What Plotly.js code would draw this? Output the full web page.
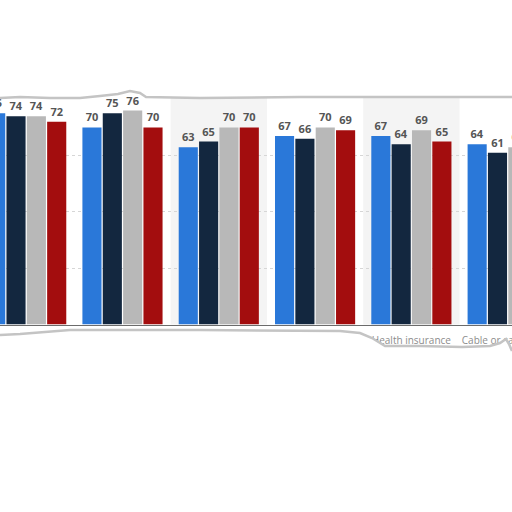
<!DOCTYPE html>
<html>
<head>
<meta charset="utf-8">
<script src="https://cdn.plot.ly/plotly-3.0.1.min.js"></script>
<style>
  html, body { margin: 0; padding: 0; background: #fff; }
  #chart { width: 512px; height: 512px; }
</style>
</head>
<body>
<div id="chart"></div>
<script>
// categories (only the last two labels survive the tear)
var categories = ['Group A', 'Group B', 'Group C', 'Group D', 'Health insurance', 'Cable or satellite TV'];
var visibleLabels = ['Health insurance', 'Cable or satellite TV'];

// four series, legend not visible in the fragment
var seriesNames = ['Series 1', 'Series 2', 'Series 3', 'Series 4'];
var series1 = [75, 70, 63, 67, 67, 64];
var series2 = [74, 75, 65, 66, 64, 61];
var series3 = [74, 76, 70, 70, 69, 63];
var series4 = [72, 70, 70, 69, 65, 63];
var colors = ['#2a78d9', '#13273f', '#b8b8b8', '#a30d0e'];

var gridValues = [0, 20, 40, 60];
var shadedGroups = ['Group C', 'Health insurance'];

var W = 512, H = 512;
function px(x, y) { return (x / W).toFixed(4) + ',' + (1 - y / H).toFixed(4); }
function pathFrom(pts, close) {
  return 'M' + pts.map(function (p) { return px(p[0], p[1]); }).join(' L') + (close ? ' Z' : '');
}

var allSeries = [series1, series2, series3, series4];
var data = allSeries.map(function (vals, i) {
  return {
    type: 'bar',
    name: seriesNames[i],
    x: categories,
    y: vals,
    marker: { color: colors[i], line: { width: 0 } },
    text: vals.map(String),
    textposition: 'outside',
    constraintext: 'none',
    cliponaxis: true,
    textfont: { family: 'Open Sans, DejaVu Sans, sans-serif', size: 11, color: '#555555', weight: 'bold' },
    hoverinfo: 'x+y+name'
  };
});

// torn paper edges
var topEdge = [[0, 98], [20, 97], [50, 98], [80, 98], [100, 96], [118, 94], [130, 91],
  [140, 93], [146, 97], [200, 98], [300, 97], [400, 97], [512, 97]];
var bottomEdge = [[0, 335], [20, 334], [45, 332], [70, 330], [200, 330], [340, 331], [360, 333],
  [372, 338], [385, 346], [420, 346], [462, 347], [490, 346], [500, 343], [506, 339],
  [509, 344], [512, 351]];

var shapes = shadedGroups.map(function (c) {
  var i = categories.indexOf(c);
  return {
    type: 'rect', xref: 'x', yref: 'paper', layer: 'below',
    x0: i - 0.5, x1: i + 0.5, y0: 1 - 324.5 / H, y1: 1 - 60 / H,
    fillcolor: '#f4f4f4', line: { width: 0 }
  };
});
shapes.push({ type: 'path', xref: 'paper', yref: 'paper', layer: 'above',
  path: pathFrom([[0, 0], [512, 0]].concat(topEdge.slice().reverse()), true),
  fillcolor: '#ffffff', line: { width: 0 } });
shapes.push({ type: 'path', xref: 'paper', yref: 'paper', layer: 'above',
  path: pathFrom(bottomEdge.concat([[512, 512], [0, 512]]), true),
  fillcolor: '#ffffff', line: { width: 0 } });
[topEdge, bottomEdge].forEach(function (edge) {
  shapes.push({ type: 'path', xref: 'paper', yref: 'paper', layer: 'above',
    path: pathFrom(edge, false), fillcolor: 'rgba(0,0,0,0)',
    line: { color: '#c4c4c4', width: 2.5 } });
});

var layout = {
  width: W,
  height: H,
  margin: { l: 0, r: 0, t: 0, b: 0, pad: 0 },
  paper_bgcolor: '#ffffff',
  plot_bgcolor: 'rgba(0,0,0,0)',
  showlegend: false,
  barmode: 'group',
  bargap: 0.155,
  bargroupgap: 0.06,
  xaxis: {
    type: 'category',
    range: [-0.272, 5.045],
    domain: [0, 1],
    tickmode: 'array',
    tickvals: visibleLabels,
    ticktext: visibleLabels,
    ticks: '',
    ticklabelstandoff: 6,
    tickfont: { family: 'Open Sans, DejaVu Sans, sans-serif', size: 10, color: '#8c8c8c' },
    showgrid: false,
    showline: true,
    linecolor: '#6b6b6b',
    linewidth: 1,
    zeroline: false
  },
  yaxis: {
    range: [0, 93.96],
    domain: [1 - 324.5 / H, 1 - 60 / H],
    tickmode: 'array',
    tickvals: gridValues,
    showticklabels: false,
    ticks: '',
    showgrid: true,
    gridcolor: '#d6d6d6',
    griddash: 'dot',
    gridwidth: 1,
    zeroline: false,
    showline: false
  },
  shapes: shapes
};

Plotly.newPlot('chart', data, layout, { displayModeBar: false, staticPlot: true });
</script>
</body>
</html>
